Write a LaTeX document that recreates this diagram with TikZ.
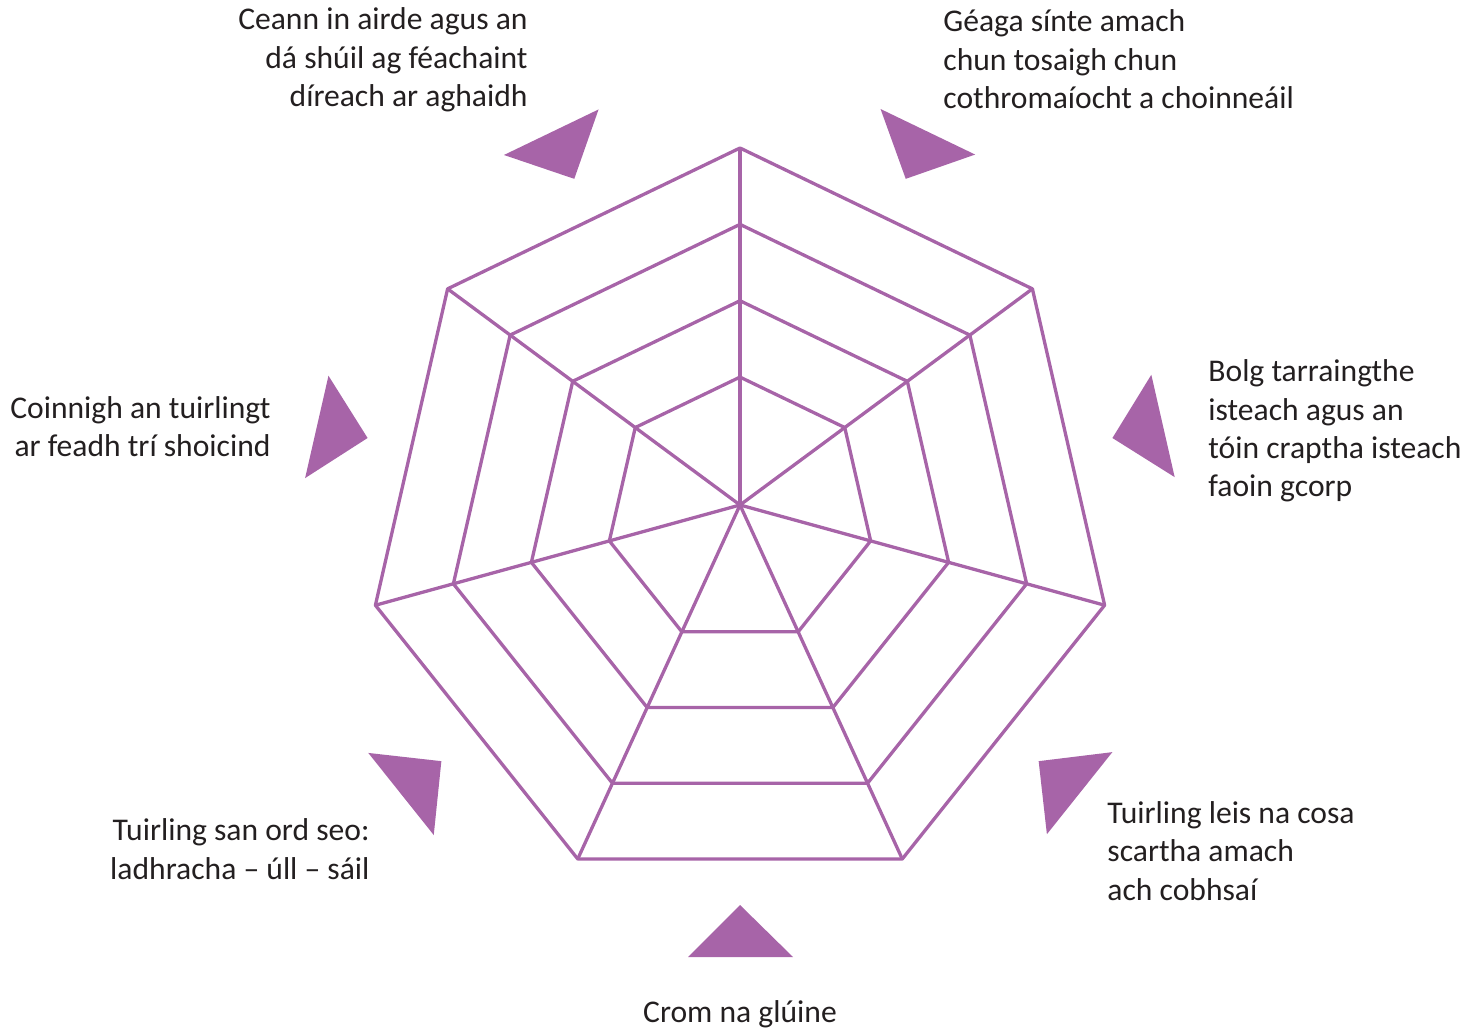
\documentclass[tikz,border=0pt]{standalone}
\usepackage{fontspec}
\setmainfont{Carlito}
\usetikzlibrary{positioning}
\definecolor{webpurple}{RGB}{167,100,168}
\definecolor{labelgrey}{RGB}{35,31,32}

\begin{document}
\begin{tikzpicture}[x=0.5pt,y=-0.5pt,
	web/.style={draw=webpurple,line width=1.65pt,line join=round},
	marker/.style={fill=webpurple},
	lbl/.style={inner sep=0pt,text=labelgrey,font=\fontsize{15.8}{19.25}\selectfont}]
	\useasboundingbox (0,0) rectangle (1482,1031);
	\coordinate (O) at (740,505);
	\coordinate (M) at (740,523);
	% rings of the web
	\foreach \k/\r in {1/134,2/214,3/294,4/374}{
		\foreach \i in {0,...,6}
			\coordinate (R\k-\i) at ({740+\r*sin(\i*360/7)},{505+0.0455*\r-\r*cos(\i*360/7)});
		\draw[web] (R\k-0) -- (R\k-1) -- (R\k-2) -- (R\k-3) -- (R\k-4) -- (R\k-5) -- (R\k-6) -- cycle;
	}
	% spokes
	\foreach \i in {0,...,6}
		\draw[web] (O) -- (R4-\i);
	% markers
	\foreach \i in {0,...,6}
		\fill[marker,rotate around={\i*360/7:(M)}] (740,905) -- (688,957) -- (793,957) -- cycle;
	% labels (base = last line)
	\node[lbl,anchor=base east,align=right] (head) at (528,107) {Ceann in airde agus an\\dá shúil ag féachaint\\díreach ar aghaidh};
	\node[lbl,anchor=base west,align=left] (arms) at (943,109) {Géaga sínte amach\\chun tosaigh chun\\cothromaíocht a choinneáil};
	\node[lbl,anchor=base west,align=left] (belly) at (1208,497) {Bolg tarraingthe\\isteach agus an\\tóin craptha isteach\\faoin gcorp};
	\node[lbl,anchor=base west,align=left] (feet) at (1107,900) {Tuirling leis na cosa\\scartha amach\\ach cobhsaí};
	\node[lbl,anchor=base] (knees) at (740,1022) {Crom na glúine};
	\node[lbl,anchor=base east,align=right] (order) at (370,879) {Tuirling san ord seo:\\ladhracha – úll – sáil};
	\node[lbl,anchor=base east,align=right] (hold) at (271,457) {Coinnigh an tuirlingt\\ar feadh trí shoicind};
\end{tikzpicture}
\end{document}
